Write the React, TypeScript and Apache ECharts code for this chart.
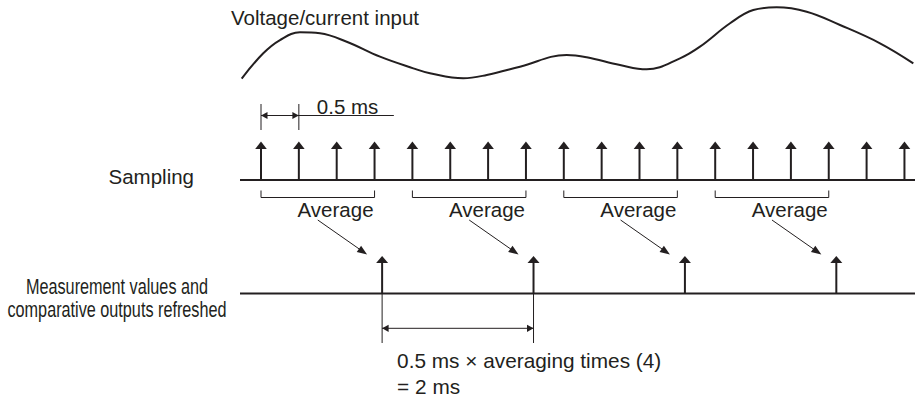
import React, { useEffect, useRef } from "react";
import * as echarts from "echarts";

// ---------------- data ----------------
const waveTimesMs = [-0.255, 0.03, 0.251, 0.515, 0.779, 1.132, 1.572, 2.012, 2.232, 2.672, 2.982, 3.421, 4.038, 4.302, 4.742, 5.095, 5.535, 5.799, 6.196, 6.503, 6.812, 7.209, 7.649, 8.177, 8.617];
const waveLevels = [0.76, 3.73, 5.29, 6.2, 6.08, 5.09, 3.33, 1.96, 1.38, 0.79, 1.18, 2.15, 3.53, 3.26, 2.35, 1.85, 3.14, 4.51, 7.26, 8.82, 9.14, 8.62, 7.06, 4.91, 2.55];
const sampleTimesMs = [0, 0.5, 1, 1.5, 2, 2.5, 3, 3.5, 4, 4.5, 5, 5.5, 6, 6.5, 7, 7.5, 8, 8.5];
const averageStartMs = [0, 2, 4, 6];
const averageEndMs = [1.5, 3.5, 5.5, 7.5];
const refreshTimesMs = [1.6, 3.6, 5.6, 7.6];
const samplingIntervalMs = 0.5;
const averagingTimes = 4;
const refreshPeriodMs = 2;
const inputLabel = "Voltage/current input";
const samplingLabel = "Sampling";
const refreshLabelLines = ["Measurement values and", "comparative outputs refreshed"];
const averageLabel = "Average";

// ---------------- layout ----------------
const W = 915;
const H = 399;
const PX_PER_MS = 75.7;
const ORIGIN_PX = 261;
const X_MIN = -ORIGIN_PX / PX_PER_MS;
const X_MAX = (W - ORIGIN_PX) / PX_PER_MS;
const LINE_START_MS = (240 - ORIGIN_PX) / PX_PER_MS;
const INK = "#231f20";
const FONT = '"Liberation Sans", Arial, Helvetica, sans-serif';
const FS = 20.5;
const mid = (baseline: number, fs: number = FS) => baseline - 0.35 * fs;

const SAMPLE_Y = 180;
const SAMPLE_TIP = 141.5;
const OUT_Y = 293.5;
const OUT_TIP = 256;
const BRACKET_TOP = 190.5;
const BRACKET_BOT = 197.5;

function txt(text: string, x: number, y: number, align: string, fs: number = FS) {
  return {
    type: "text",
    style: {
      text, x, y, fill: INK, fontSize: fs, fontFamily: FONT,
      align, textAlign: align, verticalAlign: "middle", textVerticalAlign: "middle",
    },
  };
}

function seg(x1: number, y1: number, x2: number, y2: number, lw: number) {
  return { type: "line", shape: { x1, y1, x2, y2 }, style: { stroke: INK, lineWidth: lw } };
}

function head(tipX: number, tipY: number, fromX: number, fromY: number, len: number, half: number) {
  const dx = tipX - fromX;
  const dy = tipY - fromY;
  const d = Math.hypot(dx, dy) || 1;
  const ux = dx / d;
  const uy = dy / d;
  const bx = tipX - ux * len;
  const by = tipY - uy * len;
  return {
    type: "polygon",
    shape: { points: [[tipX, tipY], [bx - uy * half, by + ux * half], [bx + uy * half, by - ux * half]] },
    style: { fill: INK },
  };
}

function upArrow(x: number, baseY: number, tipY: number, len: number, half: number) {
  return [seg(x, baseY, x, tipY + len - 1, 2), head(x, tipY, x, baseY, len, half)];
}

export default function App() {
  const ref = useRef<HTMLDivElement>(null);

  useEffect(() => {
    if (!ref.current) return;
    const chart = echarts.init(ref.current, undefined, { renderer: "svg" });
    const px = (api: any, t: number, y: number) => api.coord([t, y]);
    const NARROW_FS = 21.5;

    const option: any = {
      animation: false,
      backgroundColor: "#ffffff",
      grid: [
        { left: 0, right: 0, top: 0, height: 85 },
        { left: 0, right: 0, top: 0, bottom: 0 },
      ],
      xAxis: [
        { type: "value", gridIndex: 0, min: X_MIN, max: X_MAX, show: false },
        { type: "value", gridIndex: 1, min: X_MIN, max: X_MAX, show: false },
      ],
      yAxis: [
        { type: "value", gridIndex: 0, min: 0, max: 10, show: false },
        { type: "value", gridIndex: 1, min: 0, max: H, inverse: true, show: false },
      ],
      graphic: [
        { type: "text", x: 231, y: mid(24.5), style: { text: inputLabel, x: 0, y: 0, fill: INK, fontSize: FS, fontFamily: FONT, align: "left", textAlign: "left", verticalAlign: "middle", textVerticalAlign: "middle" } },
        { type: "text", x: 194, y: mid(183.3), style: { text: samplingLabel, x: 0, y: 0, fill: INK, fontSize: FS, fontFamily: FONT, align: "right", textAlign: "right", verticalAlign: "middle", textVerticalAlign: "middle" } },
        ...refreshLabelLines.map((line, i) => ({
          type: "text", x: 117, y: mid(294.5 + i * 23, NARROW_FS), scaleX: 0.755,
          style: { text: line, x: 0, y: 0, fill: INK, fontSize: NARROW_FS, fontFamily: FONT, align: "center", textAlign: "center", verticalAlign: "middle", textVerticalAlign: "middle" },
        })),
      ],
      series: [
        {
          type: "line",
          xAxisIndex: 0,
          yAxisIndex: 0,
          data: waveTimesMs.map((t, i) => [t, waveLevels[i]]),
          smooth: 0.4,
          symbol: "none",
          clip: false,
          lineStyle: { color: INK, width: 2 },
        },
        {
          type: "custom",
          xAxisIndex: 1,
          yAxisIndex: 1,
          data: [[LINE_START_MS, X_MAX, SAMPLE_Y], [LINE_START_MS, X_MAX, OUT_Y]],
          renderItem: (params: any, api: any) => {
            const y = api.value(2);
            const a = px(api, api.value(0), y);
            const b = px(api, api.value(1), y);
            return { type: "group", children: [seg(a[0], a[1], b[0], b[1], 2)] };
          },
        },
        {
          type: "custom",
          xAxisIndex: 1,
          yAxisIndex: 1,
          data: sampleTimesMs.map((t) => [t, SAMPLE_Y]),
          renderItem: (params: any, api: any) => {
            const p = px(api, api.value(0), api.value(1));
            return { type: "group", children: upArrow(p[0], p[1], SAMPLE_TIP, 7.5, 5.8) };
          },
        },
        {
          type: "custom",
          xAxisIndex: 1,
          yAxisIndex: 1,
          data: refreshTimesMs.map((t) => [t, OUT_Y]),
          renderItem: (params: any, api: any) => {
            const p = px(api, api.value(0), api.value(1));
            return { type: "group", children: upArrow(p[0], p[1], OUT_TIP, 7, 6) };
          },
        },
        {
          type: "custom",
          xAxisIndex: 1,
          yAxisIndex: 1,
          data: averageStartMs.map((s, i) => [s, averageEndMs[i], refreshTimesMs[i]]),
          renderItem: (params: any, api: any) => {
            const x1 = px(api, api.value(0), 0)[0];
            const x2 = px(api, api.value(1), 0)[0];
            const ox = px(api, api.value(2), 0)[0];
            const sx = (x1 + x2) / 2;
            const sy = 220;
            const ex = ox - 15;
            const ey = 254.5;
            return {
              type: "group",
              children: [
                { type: "polyline", shape: { points: [[x1, BRACKET_TOP], [x1, BRACKET_BOT], [x2, BRACKET_BOT], [x2, BRACKET_TOP]] }, style: { stroke: INK, lineWidth: 1, fill: null } },
                txt(averageLabel, x2 - 1, mid(216.5), "right"),
                seg(sx, sy, ex - 5, ey - 3.5, 1),
                head(ex, ey, sx, sy, 10, 3.8),
              ],
            };
          },
        },
        {
          type: "custom",
          xAxisIndex: 1,
          yAxisIndex: 1,
          data: [[sampleTimesMs[0], sampleTimesMs[1]]],
          renderItem: (params: any, api: any) => {
            const x0 = px(api, api.value(0), 0)[0];
            const x1 = px(api, api.value(1), 0)[0];
            const y = 115.5;
            return {
              type: "group",
              children: [
                seg(x0, 104, x0, 130, 1),
                seg(x1, 104, x1, 130, 1),
                seg(x0, y, x1 + 95, y, 1),
                head(x0, y, x1, y, 6.5, 3.6),
                head(x1, y, x0, y, 6.5, 3.6),
                txt(`${samplingIntervalMs} ms`, x1 + 18, mid(113.5), "left"),
              ],
            };
          },
        },
        {
          type: "custom",
          xAxisIndex: 1,
          yAxisIndex: 1,
          data: [[refreshTimesMs[0], refreshTimesMs[1]]],
          renderItem: (params: any, api: any) => {
            const x0 = px(api, api.value(0), 0)[0];
            const x1 = px(api, api.value(1), 0)[0];
            const y = 328.3;
            return {
              type: "group",
              children: [
                seg(x0, OUT_Y, x0, 343, 1),
                seg(x1, OUT_Y, x1, 343, 1),
                seg(x0, y, x1, y, 1),
                head(x0, y, x1, y, 6.5, 3.6),
                head(x1, y, x0, y, 6.5, 3.6),
                txt(`${samplingIntervalMs} ms \u00d7 averaging times (${averagingTimes})`, x0 + 15, mid(368), "left", 20.8),
                txt(`= ${refreshPeriodMs} ms`, x0 + 15, mid(394), "left", 20.8),
              ],
            };
          },
        },
      ],
    };

    chart.setOption(option);
    return () => chart.dispose();
  }, []);

  return (
    <div
      ref={ref}
      style={{ position: "fixed", left: 0, top: 0, width: W, height: H, background: "#fff" }}
    />
  );
}
